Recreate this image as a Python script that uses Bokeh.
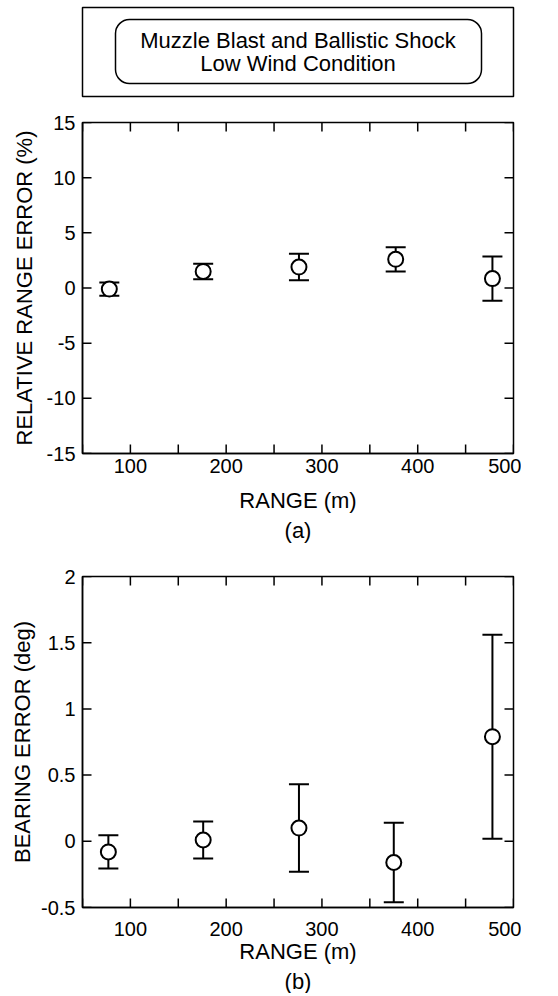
from bokeh.plotting import figure
from bokeh.layouts import column
from bokeh.models import (Range1d, FixedTicker, Whisker, ColumnDataSource,
                          Title, BoxAnnotation, TeeHead)
from bokeh.embed import file_html
from bokeh.resources import INLINE
from bokeh.core.properties import value

# ---------------- data ----------------
title_lines = ["Muzzle Blast and Ballistic Shock", "Low Wind Condition"]

range_a = [78, 176, 276, 377, 478]
rel_range_err = [-0.1, 1.5, 1.9, 2.6, 0.85]
rel_range_sd = [0.6, 0.7, 1.2, 1.1, 2.0]

range_b = [77, 176, 276, 375, 478]
bearing_err = [-0.08, 0.01, 0.1, -0.16, 0.79]
bearing_sd = [0.125, 0.14, 0.33, 0.30, 0.77]

x_ticks = [100, 200, 300, 400, 500]
x_minor_ticks = [50, 150, 250, 350, 450]
x_tick_labels = ["100", "200", "300", "400", "500"]

ya_ticks = [-15, -10, -5, 0, 5, 10, 15]
ya_tick_labels = ["-15", "-10", "-5", "0", "5", "10", "15"]
yb_ticks = [-0.5, 0, 0.5, 1, 1.5, 2]
yb_tick_labels = ["-0.5", "0", "0.5", "1", "1.5", "2"]

FONT = "Liberation Sans"
FW, FH = 431, 331          # frame size in px
LEFT, RIGHT = 82, 8
TICK_PX = 9


def make_title():
    p = figure(frame_width=FW, frame_height=89, output_backend="svg", toolbar_location=None,
               x_range=Range1d(0, FW), y_range=Range1d(0, 89),
               x_axis_location=None, y_axis_location=None,
               min_border_left=LEFT, min_border_right=RIGHT,
               min_border_top=7, min_border_bottom=14)
    p.grid.visible = False
    p.outline_line_color = "black"
    p.outline_line_width = 1.5
    p.outline_line_alpha = 1
    p.add_layout(BoxAnnotation(left=33, right=399, bottom=13, top=77,
                               border_radius=14, fill_color=None, fill_alpha=0,
                               line_color="black", line_alpha=1, line_width=1.5))
    p.text(x=[FW / 2, FW / 2], y=[56, 33], text=title_lines,
           text_align="center", text_baseline="middle",
           text_font=value(FONT), text_font_size="22px", text_color="black")
    return p


def style_axis(ax, ticks, labels):
    ax.ticker = FixedTicker(ticks=ticks, minor_ticks=[])
    ax.axis_line_color = "black"
    ax.axis_line_width = 1.5
    ax.major_tick_in = 0
    ax.major_tick_out = 0
    ax.minor_tick_in = 0
    ax.minor_tick_out = 0
    ax.major_label_overrides = dict(zip(ticks, labels))
    ax.major_label_text_font = FONT
    ax.major_label_text_font_size = "20px"
    ax.major_label_text_color = "black"
    ax.axis_label_text_font = FONT
    ax.axis_label_text_font_size = "22px"
    ax.axis_label_text_font_style = "normal"
    ax.axis_label_text_color = "black"


def make_plot(xs, ys, sds, yr, yticks, ylabels, ylabel, panel,
              top, bottom, tick_standoff, label_standoff, ylabel_standoff):
    xr = (50, 500)
    p = figure(frame_width=FW, frame_height=FH, output_backend="svg", toolbar_location=None,
               x_range=Range1d(*xr), y_range=Range1d(*yr),
               min_border_left=LEFT, min_border_right=RIGHT,
               min_border_top=top, min_border_bottom=bottom)
    p.grid.visible = False
    p.outline_line_color = "black"
    p.outline_line_width = 1.5

    xax = p.xaxis[0]
    style_axis(xax, x_ticks, x_tick_labels)
    xax.major_label_standoff = tick_standoff
    xax.axis_label = "RANGE (m)"
    xax.axis_label_standoff = label_standoff

    yax = p.yaxis[0]
    style_axis(yax, yticks, ylabels)
    yax.major_label_standoff = 7
    yax.axis_label = ylabel
    yax.axis_label_standoff = ylabel_standoff

    p.add_layout(Title(text=panel, align="center", text_font=FONT,
                       text_font_size="22px", text_font_style="normal",
                       text_color="black", standoff=0, offset=0), "below")

    # inward tick marks on all four sides of the frame
    dx = TICK_PX * (xr[1] - xr[0]) / FW
    dy = TICK_PX * (yr[1] - yr[0]) / FH
    xt = sorted(x_ticks + x_minor_ticks)
    n, m = len(xt), len(yticks)
    tick_kw = dict(line_color="black", line_width=1.5)
    p.segment(x0=xt, x1=xt, y0=[yr[0]] * n, y1=[yr[0] + dy] * n, **tick_kw)
    p.segment(x0=xt, x1=xt, y0=[yr[1]] * n, y1=[yr[1] - dy] * n, **tick_kw)
    p.segment(x0=[xr[0]] * m, x1=[xr[0] + dx] * m, y0=yticks, y1=yticks, **tick_kw)
    p.segment(x0=[xr[1]] * m, x1=[xr[1] - dx] * m, y0=yticks, y1=yticks, **tick_kw)

    upper = [y + s for y, s in zip(ys, sds)]
    lower = [y - s for y, s in zip(ys, sds)]
    src = ColumnDataSource(dict(x=xs, y=ys, upper=upper, lower=lower))
    wk = Whisker(source=src, base="x", upper="upper", lower="lower",
                 line_color="black", line_width=2,
                 upper_head=TeeHead(size=20, line_width=2, line_color="black"),
                 lower_head=TeeHead(size=20, line_width=2, line_color="black"),
                 level="underlay")
    p.add_layout(wk)
    p.scatter("x", "y", source=src, marker="circle", size=15,
              fill_color="white", line_color="black", line_width=2)
    return p


p0 = make_title()
pa = make_plot(range_a, rel_range_err, rel_range_sd, (-15, 15), ya_ticks, ya_tick_labels,
               "RELATIVE RANGE ERROR (%)", "(a)", 12, 92, 5, 12, 7)
pb = make_plot(range_b, bearing_err, bearing_sd, (-0.5, 2), yb_ticks, yb_tick_labels,
               "BEARING ERROR (deg)", "(b)", 31, 83, 14, 0, 3)

layout = column(p0, pa, pb, spacing=0)
open("out.html", "w").write(file_html(layout, INLINE))
